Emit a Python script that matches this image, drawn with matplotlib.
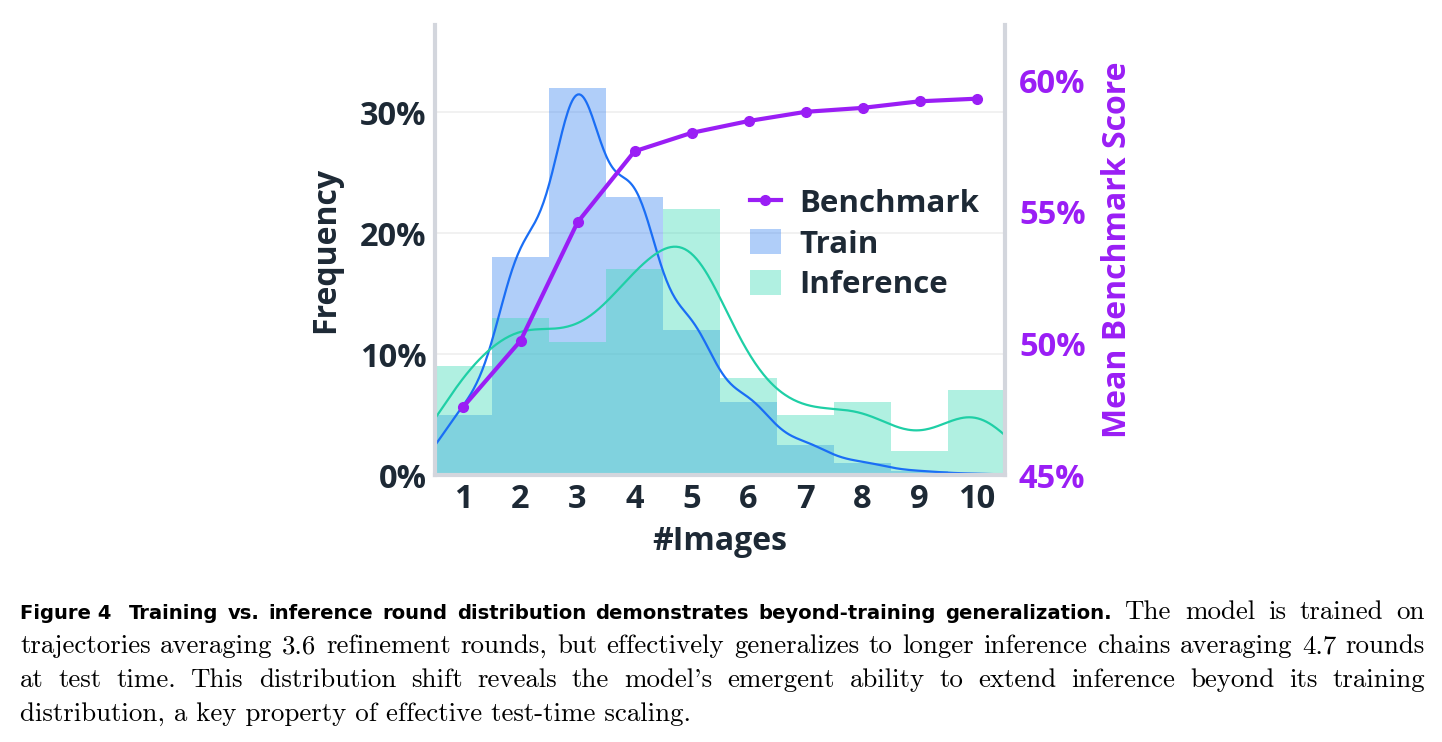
import numpy as np
import matplotlib
matplotlib.use('Agg')
from matplotlib import pyplot as plt
from matplotlib.ticker import PercentFormatter
from matplotlib.transforms import IdentityTransform

# data
images = np.arange(1, 11)
train = [5.0, 18.0, 32.0, 23.0, 12.0, 6.0, 2.5, 1.0, 0.3, 0.1]
inference = [9.0, 13.0, 11.0, 17.0, 22.0, 8.0, 5.0, 6.0, 2.0, 7.0]
benchmark = [47.6, 50.1, 54.6, 57.3, 58.0, 58.45, 58.8, 58.95, 59.2, 59.3]

ink = '#1d2935'
purple = '#9a1ef5'
spine = '#d3d6dd'

plt.rcParams['font.family'] = ['Open Sans', 'DejaVu Sans']
plt.rcParams['font.weight'] = 'bold'
plt.rcParams['axes.labelweight'] = 'bold'


def kde(values, bw, xs):
    w = np.asarray(values)
    d = (xs[:, None] - images[None, :]) / bw
    return (np.exp(-0.5 * d ** 2) * w).sum(1) / (bw * np.sqrt(2 * np.pi))


fig = plt.figure(figsize=(14.42, 7.42), dpi=100)
ax = fig.add_axes([435 / 1442, 1 - 475 / 742, 570 / 1442, 450 / 742])

b_train = ax.bar(images, train, width=1, color='#3a85f2', alpha=0.4, lw=0, label='Train')
b_inf = ax.bar(images, inference, width=1, color='#3adab6', alpha=0.4, lw=0, label='Inference')
xs = np.linspace(0.5, 10.5, 400)
ax.plot(xs, kde(train, 0.45, xs), color='#1a6ef5', lw=1.6)
ax.plot(xs, kde(inference, 0.65, xs), color='#1fcfa6', lw=1.6)

ax.set_xlim(0.5, 10.5)
ax.set_ylim(0, 37.2)
ax.set_xticks(images)
ax.set_yticks([0, 10, 20, 30])
ax.yaxis.set_major_formatter(PercentFormatter(decimals=0))
ax.yaxis.grid(True, color='#efefef', lw=1.2)
ax.set_axisbelow(True)
ax.tick_params(length=0, labelsize=23.5, colors=ink, pad=6)
ax.set_xlabel('#Images', fontsize=23, color=ink, labelpad=6)
ax.set_ylabel('Frequency', fontsize=23, color=ink, labelpad=13)
ax.spines['top'].set_visible(False)
for s in ['left', 'right', 'bottom']:
    ax.spines[s].set_color(spine)
    ax.spines[s].set_linewidth(3)

ax2 = ax.twinx()
line, = ax2.plot(images, benchmark, color=purple, lw=3, marker='o', ms=7, label='Benchmark')
ax2.set_ylim(45, 62.1)
ax2.set_yticks([45, 50, 55, 60])
ax2.yaxis.set_major_formatter(PercentFormatter(decimals=0))
ax2.tick_params(length=0, labelsize=23.5, labelcolor=purple, pad=10)
ax2.set_ylabel('Mean Benchmark Score', fontsize=23, color=purple, labelpad=11)
for s in ax2.spines.values():
    s.set_visible(False)

leg = ax2.legend([line, b_train, b_inf], ['Benchmark', 'Train', 'Inference'],
                 loc='upper left', bbox_to_anchor=(0.552, 0.636), frameon=False,
                 fontsize=22.5, handlelength=1.0, handleheight=0.85, handletextpad=0.6,
                 labelspacing=0.33, borderpad=0, borderaxespad=0)
for t in leg.get_texts():
    t.set_color(ink)

# caption, justified word by word
bold = dict(family='DejaVu Sans', weight='bold', size=12, color='black')
serif = dict(family='cmr10', weight='normal', size=16.5, color='black')

x0, x1 = 20, 1425
fig.canvas.draw()
r = fig.canvas.get_renderer()


def fit(text, props, width):
    t = fig.text(0, 0, text, transform=IdentityTransform(), **props)
    w = t.get_window_extent(r).width
    t.remove()
    return props['size'] * width / w


bold_txt = 'Figure 4  Training vs. inference round distribution demonstrates beyond-training generalization.'
bold['size'] = fit(bold_txt, bold, 1067)
serif['size'] = fit('trajectories averaging 3.6 refinement rounds, but effectively generalizes to '
                    'longer inference chains averaging 4.7 rounds', serif, 1395)

lines = [
    ([('Figure 4', bold, 0)]
     + [(w, bold, 8 if i == 0 else 0) for i, w in enumerate(bold_txt.split()[2:])]
     + [(w, serif, 4) for w in 'The model is trained on'.split()], 619),
    ([(w, serif, 0) for w in 'trajectories averaging 3.6 refinement rounds, but effectively '
      'generalizes to longer inference chains averaging 4.7 rounds'.split()], 653),
    ([(w, serif, 0) for w in "at test time. This distribution shift reveals the model's emergent "
      'ability to extend inference beyond its training'.split()], 687),
]
for words, y in lines:
    texts = [fig.text(0, 742 - y, w, transform=IdentityTransform(), va='baseline', **p)
             for w, p, _ in words]
    widths = [t.get_window_extent(r).width for t in texts]
    extra = sum(e for _, _, e in words)
    gap = (x1 - x0 - sum(widths) - extra) / (len(words) - 1)
    x = x0
    for t, wd, (_, _, e) in zip(texts, widths, words):
        x += e
        t.set_x(x)
        x += wd + gap
fig.text(x0, 742 - 721, 'distribution, a key property of effective test-time scaling.',
         transform=IdentityTransform(), va='baseline', **serif)

fig.savefig('out.png', dpi=100)
